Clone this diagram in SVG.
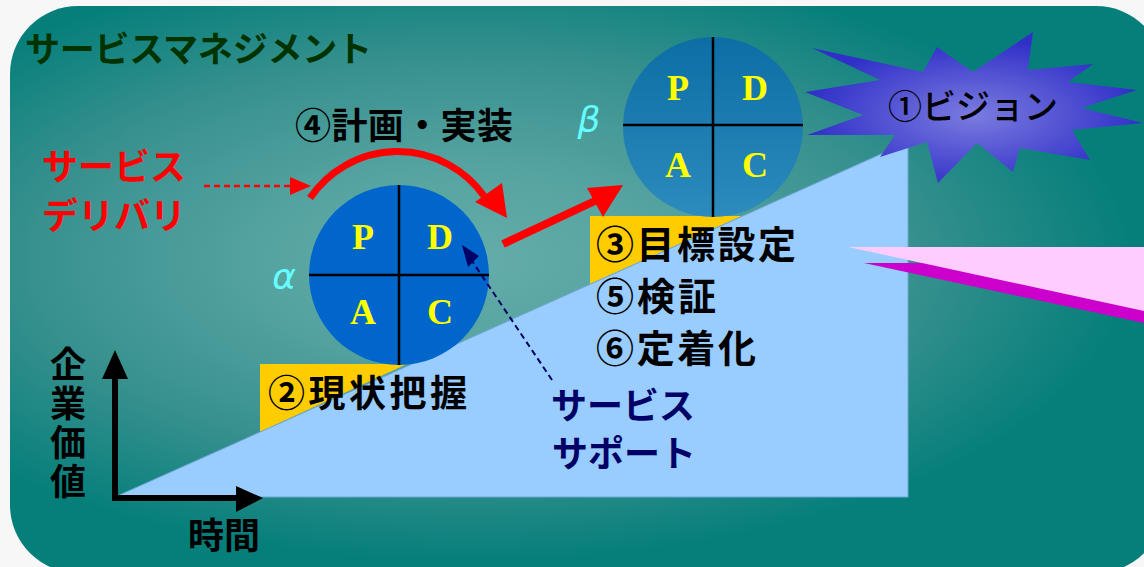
<svg xmlns="http://www.w3.org/2000/svg" width="1144" height="567" viewBox="0 0 1144 567">
<defs>
<radialGradient id="bg" gradientUnits="userSpaceOnUse" cx="470" cy="260" r="300" gradientTransform="translate(470 260) scale(2.2 1) translate(-470 -260)">
<stop offset="0" stop-color="#64aca9"/>
<stop offset="0.3" stop-color="#56a4a1"/>
<stop offset="0.66" stop-color="#38918e"/>
<stop offset="1" stop-color="#067f7b"/>
</radialGradient>
<radialGradient id="starg" cx="0.5" cy="0.55" r="0.5">
<stop offset="0" stop-color="#7b7be0"/>
<stop offset="1" stop-color="#3030c8"/>
</radialGradient>
<linearGradient id="betag" x1="0" y1="0" x2="0" y2="1">
<stop offset="0" stop-color="#0c6ea5"/>
<stop offset="1" stop-color="#2d8bbd"/>
</linearGradient>
<style>
.jp{font-family:"Noto Sans CJK JP","Noto Sans",sans-serif;font-weight:bold}
.jpn{font-family:"Noto Sans CJK JP","Noto Sans",sans-serif;font-weight:500}
.pdca{font-family:"Liberation Serif","Times New Roman",serif;font-weight:bold;font-size:36px;fill:#ffff00;text-anchor:middle}
.greek{font-family:"DejaVu Sans","Liberation Sans",sans-serif;font-style:italic;font-size:36px;fill:#66ffff;text-anchor:middle}
.blk{fill:#000000}
.div{stroke:#000000;stroke-width:2.5}
</style>
</defs>
<rect width="1144" height="567" fill="#f7f7f7"/>
<rect x="10" y="6" width="1154" height="567" rx="68" fill="url(#bg)"/>

<g id="background-shapes">
<polygon points="260,364 407,364 260,432" fill="#ffcc00"/>
<polygon points="590,216 742,216 590,284" fill="#ffcc00"/>
<polygon points="115,497 908,142 908,497" fill="#99ccff" stroke="#6fa6d6" stroke-width="1"/>
<polygon points="864,263 1144,263 1144,323" fill="#cc00cc"/>
<polygon points="848,247 1144,247 1144,311" fill="#ffccff"/>
</g>

<text class="jp" x="25" y="62" font-size="35" fill="#003300" textLength="347" lengthAdjust="spacing">サービスマネジメント</text>

<g id="vision">
<polygon points="812,48 923,72 937,47 973,72 1033,32 1028,70 1093,64 1068,82 1137,90 1082,108 1143,123 1072,130 1090,160 1020,148 1013,172 977,143 938,183 927,142 880,157 895,135 807,135 863,115 805,92 880,80" fill="url(#starg)"/>
<text class="jpn blk" x="973" y="119" font-size="34" text-anchor="middle">①ビジョン</text>
</g>

<g id="pdca-alpha">
<circle cx="399" cy="275" r="90" fill="#0066cc"/>
<line class="div" x1="399" y1="185" x2="399" y2="365"/>
<line class="div" x1="309" y1="275" x2="489" y2="275"/>
<text class="pdca" x="363" y="249">P</text>
<text class="pdca" x="440" y="249">D</text>
<text class="pdca" x="363" y="324">A</text>
<text class="pdca" x="440" y="324">C</text>
<text class="greek" x="284" y="289">α</text>
</g>

<g id="pdca-beta">
<circle cx="713" cy="127" r="90" fill="url(#betag)"/>
<line class="div" x1="713" y1="37" x2="713" y2="217"/>
<line class="div" x1="623" y1="125" x2="803" y2="125"/>
<text class="pdca" x="678" y="100">P</text>
<text class="pdca" x="755" y="100">D</text>
<text class="pdca" x="678" y="177">A</text>
<text class="pdca" x="755" y="177">C</text>
<text class="greek" x="589" y="132">β</text>
</g>

<g id="service-delivery">
<text class="jp" x="114" y="180" font-size="36" fill="#ff0000" text-anchor="middle">サービス</text>
<text class="jp" x="114" y="229" font-size="36" fill="#ff0000" text-anchor="middle">デリバリ</text>
</g>

<g id="service-support">
<text class="jp" x="623" y="419" font-size="36" fill="#000066" text-anchor="middle">サービス</text>
<text class="jp" x="624" y="467" font-size="36" fill="#000066" text-anchor="middle">サポート</text>
</g>

<g id="labels">
<text class="jp blk" x="295" y="139" font-size="36" textLength="218" lengthAdjust="spacing">④計画・実装</text>
<text class="jp blk" x="268" y="407" font-size="37" textLength="199" lengthAdjust="spacing">②現状把握</text>
<text class="jp blk" x="596" y="258" font-size="38" textLength="200" lengthAdjust="spacing">③目標設定</text>
<text class="jp blk" x="596" y="310" font-size="38" textLength="120" lengthAdjust="spacing">⑤検証</text>
<text class="jp blk" x="596" y="362" font-size="38" textLength="160" lengthAdjust="spacing">⑥定着化</text>
</g>

<g id="axes">
<line x1="115" y1="500" x2="115" y2="376" stroke="#000" stroke-width="6"/>
<polygon points="115,350 102,379 128,379" fill="#000"/>
<line x1="112" y1="498" x2="240" y2="498" stroke="#000" stroke-width="6"/>
<polygon points="263,498 236,486 236,512" fill="#000"/>
<text class="jp blk" x="68" y="346" font-size="36" writing-mode="vertical-rl" letter-spacing="3">企業価値</text>
<text class="jp blk" x="224" y="549" font-size="36" text-anchor="middle">時間</text>
</g>

<g id="connectors">
<line x1="204" y1="186" x2="292" y2="186" stroke="#ff0000" stroke-width="2.5" stroke-dasharray="6,4"/>
<polygon points="311,186 290,177 290,195" fill="#ff0000"/>
<path d="M 310 198 A 106 106 0 0 1 484 196" fill="none" stroke="#ff0000" stroke-width="7"/>
<polygon points="475,202 502,183 507,218" fill="#ff0000"/>
<line x1="503" y1="244" x2="597" y2="200" stroke="#ff0000" stroke-width="8"/>
<polygon points="587,188 623,185 603,217" fill="#ff0000"/>
<line x1="552" y1="380" x2="466" y2="252" stroke="#000066" stroke-width="2" stroke-dasharray="6,4"/>
<polygon points="462,245 479,256 468,267" fill="#000066"/>
</g>
</svg>
